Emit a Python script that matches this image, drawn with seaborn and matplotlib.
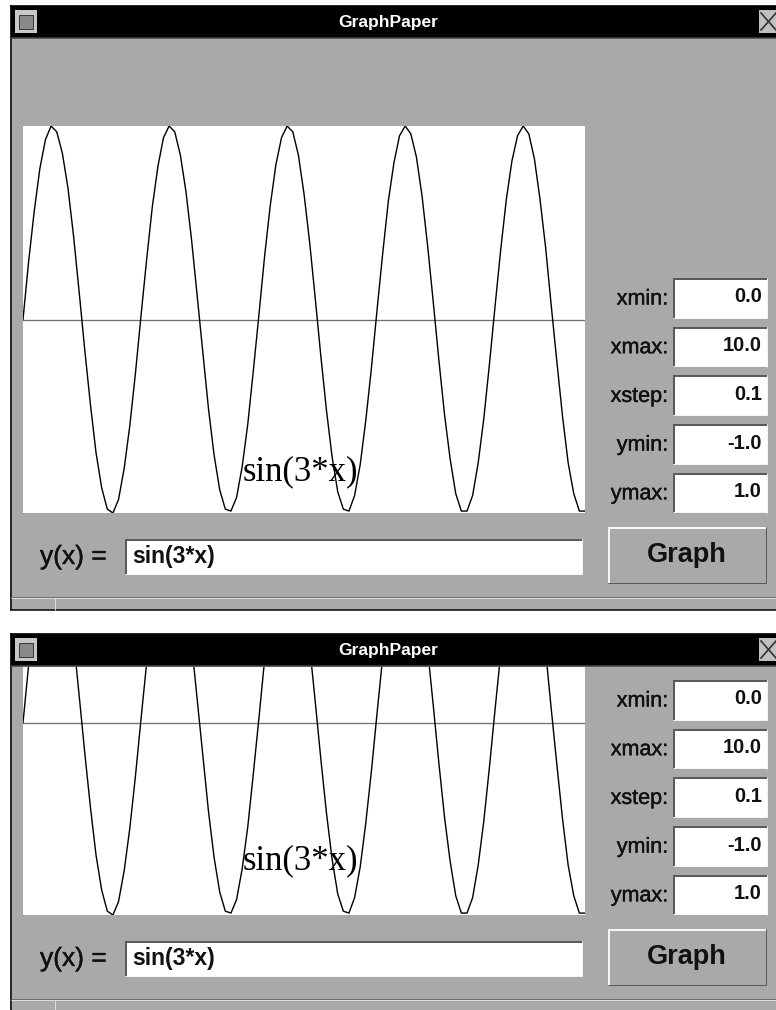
import matplotlib
matplotlib.use("Agg")
import matplotlib.pyplot as plt
from matplotlib.patches import Rectangle
import matplotlib.patheffects as pe
import seaborn as sns
import pandas as pd

# settings typed into the GraphPaper entry fields
field_names = ["xmin:", "xmax:", "xstep:", "ymin:", "ymax:"]
field_values = ["0.0", "10.0", "0.1", "-1.0", "1.0"]
xmin, xmax, xstep = 0.0, 10.0, 0.1
expr = "sin(3*x)"

# curve values, one per xstep
y_vals = [0.00, 0.30, 0.56, 0.78, 0.93, 1.00, 0.97, 0.86, 0.68, 0.43,
          0.14, -0.16, -0.44, -0.69, -0.87, -0.98, -1.00, -0.93, -0.77, -0.55,
          -0.28, 0.02, 0.31, 0.58, 0.79, 0.94, 1.00, 0.97, 0.85, 0.66,
          0.41, 0.12, -0.17, -0.46, -0.70, -0.88, -0.98, -0.99, -0.92, -0.76,
          -0.54, -0.26, 0.03, 0.33, 0.59, 0.80, 0.94, 1.00, 0.97, 0.85,
          0.65, 0.40, 0.11, -0.19, -0.47, -0.71, -0.89, -0.98, -0.99, -0.91,
          -0.75, -0.52, -0.25, 0.05, 0.34, 0.61, 0.81, 0.95, 1.00, 0.96,
          0.84, 0.64, 0.38, 0.09, -0.21, -0.49, -0.72, -0.90, -0.99, -0.99,
          -0.91, -0.74, -0.51, -0.23, 0.07, 0.36, 0.62, 0.82, 0.95, 1.00,
          0.96, 0.83, 0.62, 0.37, 0.07, -0.22, -0.50, -0.74, -0.90, -0.99,
          -0.99]
x_vals = [round(xmin + i * xstep, 1) for i in range(len(y_vals))]
df = pd.DataFrame({"x": x_vals, "y": y_vals})

W, H = 776, 1010
GRAY = "#a9a9a9"
DARK = "#5a5a5a"
LIGHT = "#dcdcdc"
PX = 0.72  # one pixel in points
INK = "#111111"
medium = [pe.withStroke(linewidth=0.3, foreground=INK)]

fig = plt.figure(figsize=(W / 100, H / 100), dpi=100)
fig.patch.set_facecolor("white")
bg = fig.add_axes([0, 0, 1, 1])
bg.set_xlim(0, W)
bg.set_ylim(H, 0)
bg.axis("off")


def hline(y, x0, x1, c, lw=1):
    bg.plot([x0, x1], [y, y], color=c, lw=lw * PX, solid_capstyle="butt")


def vline(x, y0, y1, c, lw=1):
    bg.plot([x, x], [y0, y1], color=c, lw=lw * PX, solid_capstyle="butt")


def box(x0, y0, x1, y1, face, sunken=True):
    bg.add_patch(Rectangle((x0, y0), x1 - x0, y1 - y0, facecolor=face, edgecolor="none"))
    tl, br = (DARK, "#f4f4f4") if sunken else ("#f4f4f4", DARK)
    hline(y0 + 1, x0, x1, tl, 2)
    vline(x0 + 1, y0, y1, tl, 2)
    hline(y1 - 0.5, x0, x1, br, 1)
    vline(x1 - 0.5, y0, y1, br, 1)


def draw_window(top, bottom, plot_top, ylim, label_y):
    # body and frame
    bg.add_patch(Rectangle((10, top), W - 10, bottom - top, facecolor=GRAY, edgecolor="none"))
    vline(10.5, top, bottom, "black", 1.5)
    hline(top + 0.5, 10, W, "black", 1.5)
    hline(bottom, 10, W, "black", 1.5)
    # title bar
    bg.add_patch(Rectangle((11, top + 1), W - 11, 32, facecolor="black", edgecolor="none"))
    hline(top + 33, 11, W, "#444444", 1.5)
    bg.add_patch(Rectangle((15, top + 5), 22, 23, facecolor="#c8c8c8", edgecolor="none"))
    bg.add_patch(Rectangle((19, top + 10), 14, 14, facecolor="#8a8a8a", edgecolor="#3a3a3a", lw=PX))
    bg.add_patch(Rectangle((759, top + 5), 20, 23, facecolor="#c0c0c0", edgecolor="none"))
    bg.plot([761, 776], [top + 8, top + 25], color="#333333", lw=1.2)
    bg.plot([761, 776], [top + 25, top + 8], color="#333333", lw=1.2)
    bg.text(W / 2, top + 17, "GraphPaper", color="white", fontsize=12.5, fontweight="bold",
            family="Liberation Sans", ha="center", va="center")

    # status strip at the bottom
    hline(bottom - 13, 11, W, "#6e6e6e", 1)
    hline(bottom - 12, 11, W, LIGHT, 1)
    vline(55, bottom - 12, bottom, LIGHT, 1)

    # entry fields on the right
    for i, (name, val) in enumerate(zip(field_names, field_values)):
        y0 = bottom - 332 + i * 48.7
        box(673, y0, 767, y0 + 40, "white")
        bg.text(668, y0 + 21, name, fontsize=15.5, family="Liberation Sans",
                ha="right", va="center", color=INK, path_effects=medium)
        bg.text(762, y0 + 19, val, fontsize=14.5, fontweight="bold", family="Liberation Sans",
                ha="right", va="center", color=INK)

    # Graph button
    box(608, bottom - 83, 766, bottom - 27, GRAY, sunken=False)
    bg.text(687, bottom - 55, "Graph", fontsize=19.5, fontweight="bold",
            family="Liberation Sans", ha="center", va="center", color=INK)

    # expression entry
    bg.text(40, bottom - 53, "y(x) =", fontsize=19, family="Liberation Sans",
            ha="left", va="center", color=INK, path_effects=medium)
    box(125, bottom - 71, 582, bottom - 36, "white")
    bg.text(132, bottom - 53, expr, fontsize=16.5, fontweight="bold", family="Liberation Sans",
            ha="left", va="center", color=INK)

    # graph canvas
    plot_bottom = bottom - 97
    vline(22.5, plot_top, plot_bottom, "#6a6a6a", 1)
    ax = fig.add_axes([23 / W, 1 - plot_bottom / H, (585 - 23) / W, (plot_bottom - plot_top) / H])
    ax.set_facecolor("white")
    ax.axhline(0, color="#707070", lw=PX * 1.3)
    sns.lineplot(data=df, x="x", y="y", ax=ax, color="black", lw=PX * 1.4, legend=False)
    ax.set_xlim(xmin, xmax)
    ax.set_ylim(*ylim)
    ax.set_xticks([])
    ax.set_yticks([])
    ax.set_xlabel("")
    ax.set_ylabel("")
    for s in ax.spines.values():
        s.set_visible(False)
    ax.text(3.91, label_y, expr, fontsize=25, family="Liberation Serif",
            ha="left", va="baseline", color="black")


draw_window(5, 610, 126, (-1.0, 1.0), -0.83)
draw_window(633, 1012, 667, (-1.0, 0.29), -0.76)

fig.savefig("out.png", dpi=100)
